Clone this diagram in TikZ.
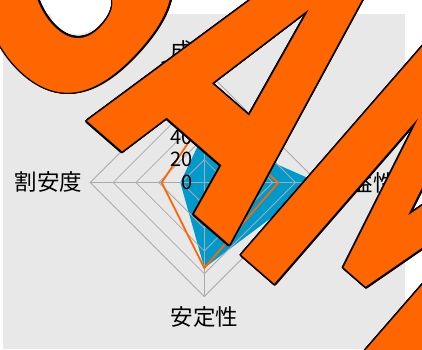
\documentclass[tikz,border=0pt]{standalone}
\usepackage{fontspec}
\setmainfont{Noto Sans CJK JP}
\newfontfamily\wmfont{DejaVu Sans}[FakeStretch=0.6]
\definecolor{wmorange}{HTML}{FF6600}
\definecolor{bgray}{HTML}{E8E8E8}
\definecolor{gridgray}{HTML}{AAAAAA}
\definecolor{serblue}{HTML}{0099CC}
\begin{document}
\begin{tikzpicture}[x=1pt,y=1pt,
  gridline/.style={draw=gridgray, line width=0.8pt},
  axislabel/.style={font=\fontsize{22.5}{22.5}\selectfont, inner sep=0pt},
  ticklabel/.style={font=\fontsize{20}{20}\selectfont, inner sep=0pt, anchor=east},
  wmk/.style={font=\wmfont\bfseries\fontsize{411.5}{411.5}\selectfont, anchor=base west, inner sep=0pt, outer sep=0pt, transform shape},
  serline/.style={draw=wmorange, line width=1.8pt, line join=miter}
]
\useasboundingbox (0,0) rectangle (422,-349);
\fill[bgray] (3.3,-14) rectangle (405,-348.5);
\coordinate (c) at (204.3,-182.5);
% series 1 (filled)
\fill[serblue] ([shift={(90:50.2)}]c) -- ([shift={(0:114)}]c) -- ([shift={(-90:85.5)}]c) -- ([shift={(180:24)}]c) -- cycle;
% grid
\foreach \r in {22.8,45.6,68.4,91.2,114}
  \draw[gridline] ([shift={(90:\r)}]c) -- ([shift={(0:\r)}]c) -- ([shift={(-90:\r)}]c) -- ([shift={(180:\r)}]c) -- cycle;
\foreach \a in {0,90,180,270} \draw[gridline] (c) -- ([shift={(\a:114)}]c);
% series 2 (line)
\draw[serline] ([shift={(90:63.8)}]c) -- ([shift={(0:74)}]c) -- ([shift={(-90:85.5)}]c) -- ([shift={(180:42.6)}]c) -- cycle;
% tick labels
\foreach \v [count=\i] in {0,20,40,60,80,100}
  \node[ticklabel] (t\i) at (193, {-182.5+1.14*\v}) {\v};
% axis labels
\node[axislabel] (ltop) at (204.3,-51) {成長性};
\node[axislabel, anchor=west] (lright) at (328,-182.5) {収益性};
\node[axislabel] (lbot) at (204.3,-317) {安定性};
\node[axislabel, anchor=east] (lleft) at (82.5,-182.3) {割安度};
% white openings of the watermark
\fill[white] (50,3) -- (52,-22) -- (65,-33) -- (80,-34) -- (95,-29) -- (108,-15) -- (112,3) -- cycle;
\fill[white] (388,-232) -- (425,-170) -- (425,-205) -- cycle;
% watermark
\begin{scope}[shift={(86.7,-121.7)}, rotate=-41]
  \foreach \wl/\wu [count=\k] in {S/-166,A/-1,M/182,P/420,L/600,E/760}{
    \foreach \a [count=\i] in {0,22.5,...,337.5}
      \node[wmk, text=black] (wb\k-\i) at ([shift={(\a:1.6)}]\wu,0.7) {\wl};
  }
  \foreach \wl/\wu [count=\k] in {S/-166,A/-1,M/182,P/420,L/600,E/760}{
    \node[wmk, text=wmorange] (wc\k) at (\wu,0.7) {\wl};
  }
\end{scope}
\end{tikzpicture}
\end{document}
